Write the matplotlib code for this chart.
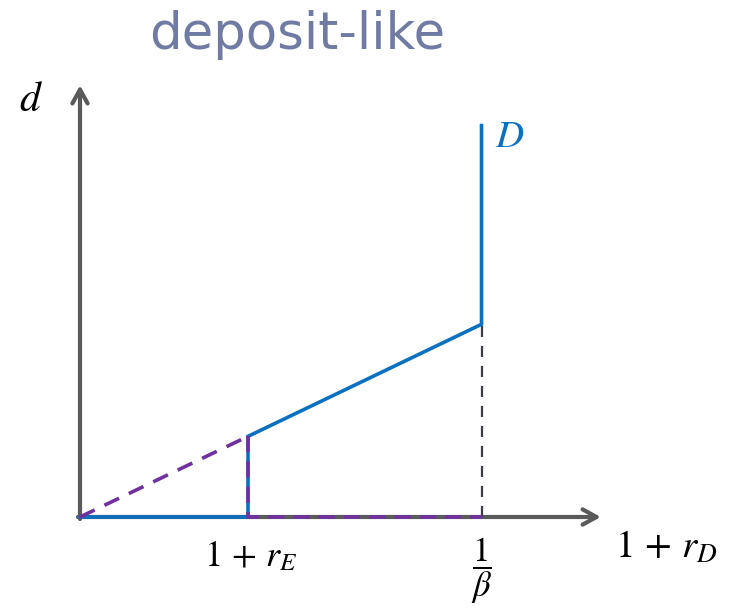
import matplotlib
matplotlib.use("Agg")
import matplotlib.pyplot as plt
import numpy as np

plt.rcParams['mathtext.fontset'] = 'stix'

# ---- data (conceptual units; 1 + r_E = 1) ----
x_rE = 1.0          # position of 1 + r_E
x_beta = 2.39       # position of 1/beta
slope = 0.48        # d = slope * x on the rising part
d_top = 2.33        # top of vertical segment at 1/beta
x_axis_end = 3.10
y_axis_end = 2.57

title = "deposit-like"
xlabel = r"$1\,+\,r_D$"
ylabel = r"$d$"
curve_label = r"$D$"
tick_labels = [r"$1\,+\,r_E$", r"$\dfrac{1}{\beta}$"]
tick_pos = [x_rE, x_beta]

# supply curve D
D_x = [0.0, x_rE, x_rE, x_beta, x_beta]
D_y = [0.0, 0.0, slope * x_rE, slope * x_beta, d_top]

# purple dashed: extension of line through origin, and alternative path
P1_x = [0.0, x_rE]
P1_y = [0.0, slope * x_rE]
P2_x = [x_rE, x_rE, x_beta]
P2_y = [slope * x_rE, 0.0, 0.0]

# black dashed drop line at 1/beta
K_x = [x_beta, x_beta]
K_y = [0.0, slope * x_beta]

blue = "#0A70C0"
purple = "#7030A0"
gray = "#5A5A5A"

fig = plt.figure(figsize=(7.33, 6.15), dpi=100)
ax = fig.add_axes([0, 0, 1, 1])
ax.set_xlim(-80 / 168, 653 / 168)
ax.set_ylim(-98 / 168, 517 / 168)
ax.axis("off")

# axes arrows
ax.annotate("", xy=(x_axis_end, 0), xytext=(-0.012, 0),
            arrowprops=dict(arrowstyle="->,head_length=1.0,head_width=0.55",
                            color=gray, lw=3.0, shrinkA=0, shrinkB=0), zorder=1)
ax.annotate("", xy=(0, y_axis_end), xytext=(0, -0.012),
            arrowprops=dict(arrowstyle="->,head_length=1.0,head_width=0.55",
                            color=gray, lw=3.0, shrinkA=0, shrinkB=0), zorder=1)

ax.plot(K_x, K_y, color="#3C3C46", lw=1.6, dashes=(5, 4), zorder=2)
ax.plot(D_x, D_y, color=blue, lw=2.6, zorder=3, solid_joinstyle="miter")
ax.plot(P1_x, P1_y, color=purple, lw=2.6, dashes=(4.5, 3), zorder=4)
ax.plot(P2_x, P2_y, color=purple, lw=2.6, dashes=(4.5, 2.5), zorder=4)

# text
fig.text(297 / 733, 1 - 35 / 615, title, color="#6F7BA3", fontsize=37,
         ha="center", va="center", family="DejaVu Sans")
ax.text(-0.29, 2.49, ylabel, fontsize=30, ha="center", va="center")
ax.text(2.56, 2.27, curve_label, fontsize=28, color=blue, ha="center", va="center")
ax.text(3.49, -0.18, xlabel, fontsize=28, ha="center", va="center")
ax.text(tick_pos[0] + 0.02, -0.23, tick_labels[0], fontsize=26, ha="center", va="center")
ax.text(tick_pos[1], -0.32, tick_labels[1], fontsize=25, ha="center", va="center")

fig.savefig("out.png", dpi=100)
